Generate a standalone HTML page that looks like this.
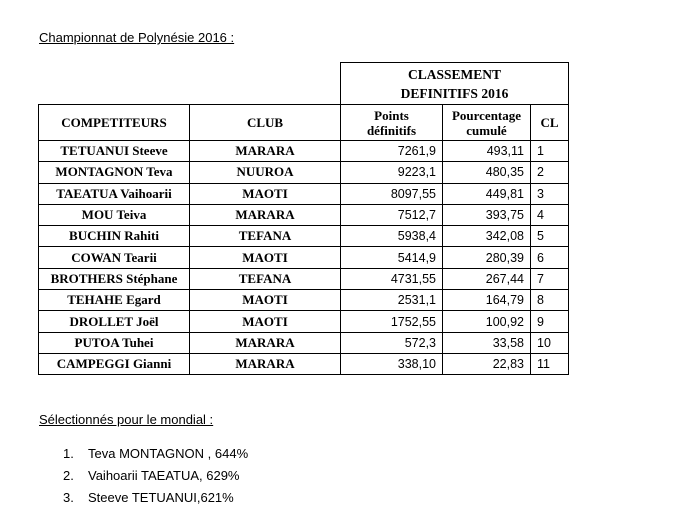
<!DOCTYPE html>
<html><head><meta charset="utf-8"><style>
body{margin:0;background:#fff;width:677px;height:513px;position:relative;overflow:hidden;font-family:"Liberation Sans",sans-serif;color:#000}
.t{position:absolute;font-size:13px}
table{position:absolute;border-collapse:collapse;left:38px;top:62px}
td{border:1px solid #000;padding:0;height:20.3px;font-size:12.5px}
.s{font-family:"Liberation Serif",serif;font-weight:bold;text-align:center;font-size:13px}
.n{text-align:right;padding-right:6px;font-size:12.5px}
.c{text-align:left;padding-left:6px}
.e{border:none}
</style></head><body>
<div class="t" style="left:39px;top:30px;text-decoration:underline">Championnat de Polynésie 2016 :</div>
<table>
<colgroup><col style="width:151px"><col style="width:151px"><col style="width:102px"><col style="width:88px"><col style="width:38px"></colgroup>
<tr style="height:42px"><td class="e"></td><td class="e"></td><td colspan="3" class="s" style="line-height:19px;font-size:13.5px">CLASSEMENT<br>DEFINITIFS 2016</td></tr>
<tr style="height:36px"><td class="s">COMPETITEURS</td><td class="s">CLUB</td><td class="s" style="font-size:13px;line-height:15px">Points<br>définitifs</td><td class="s" style="font-size:13px;line-height:15px">Pourcentage<br>cumulé</td><td class="s">CL</td></tr>
<tr><td class="s">TETUANUI Steeve</td><td class="s">MARARA</td><td class="n">7261,9</td><td class="n">493,11</td><td class="c">1</td></tr>
<tr><td class="s">MONTAGNON Teva</td><td class="s">NUUROA</td><td class="n">9223,1</td><td class="n">480,35</td><td class="c">2</td></tr>
<tr><td class="s">TAEATUA Vaihoarii</td><td class="s">MAOTI</td><td class="n">8097,55</td><td class="n">449,81</td><td class="c">3</td></tr>
<tr><td class="s">MOU Teiva</td><td class="s">MARARA</td><td class="n">7512,7</td><td class="n">393,75</td><td class="c">4</td></tr>
<tr><td class="s">BUCHIN Rahiti</td><td class="s">TEFANA</td><td class="n">5938,4</td><td class="n">342,08</td><td class="c">5</td></tr>
<tr><td class="s">COWAN Tearii</td><td class="s">MAOTI</td><td class="n">5414,9</td><td class="n">280,39</td><td class="c">6</td></tr>
<tr><td class="s">BROTHERS Stéphane</td><td class="s">TEFANA</td><td class="n">4731,55</td><td class="n">267,44</td><td class="c">7</td></tr>
<tr><td class="s">TEHAHE Egard</td><td class="s">MAOTI</td><td class="n">2531,1</td><td class="n">164,79</td><td class="c">8</td></tr>
<tr><td class="s">DROLLET Joël</td><td class="s">MAOTI</td><td class="n">1752,55</td><td class="n">100,92</td><td class="c">9</td></tr>
<tr><td class="s">PUTOA Tuhei</td><td class="s">MARARA</td><td class="n">572,3</td><td class="n">33,58</td><td class="c">10</td></tr>
<tr><td class="s">CAMPEGGI Gianni</td><td class="s">MARARA</td><td class="n">338,10</td><td class="n">22,83</td><td class="c">11</td></tr>
</table>
<div class="t" style="left:39px;top:412px;text-decoration:underline">Sélectionnés pour le mondial :</div>
<div class="t" style="left:63px;top:446px">1.</div><div class="t" style="left:88px;top:446px">Teva MONTAGNON , 644%</div>
<div class="t" style="left:63px;top:468px">2.</div><div class="t" style="left:88px;top:468px">Vaihoarii TAEATUA, 629%</div>
<div class="t" style="left:63px;top:490px">3.</div><div class="t" style="left:88px;top:490px">Steeve TETUANUI,621%</div>
</body></html>
